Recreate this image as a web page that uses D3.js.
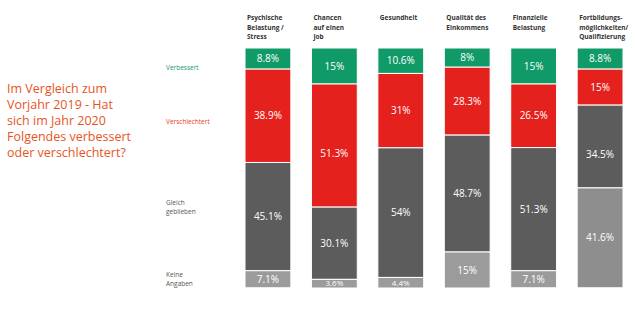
<!DOCTYPE html>
<html>
<head>
<meta charset="utf-8">
<script src="https://cdn.jsdelivr.net/npm/d3@7"></script>
<style>
  body { margin: 0; background: #fff; }
  svg { font-family: "Open Sans", sans-serif; }
</style>
</head>
<body>
<svg id="chart" width="635" height="310"></svg>
<script>
// data
var categories = [
  ["Psychische", "Belastung /", "Stress"],
  ["Chancen", "auf einen", "Job"],
  ["Gesundheit"],
  ["Qualität des", "Einkommens"],
  ["Finanzielle", "Belastung"],
  ["Fortbildungs-", "möglichkeiten/", "Qualifizierung"]
]
var series = ["Verbessert", "Verschlechtert", "Gleich geblieben", "Keine Angaben"]
var verbessert      = [8.8, 15, 10.6, 8, 15, 8.8]
var verschlechtert  = [38.9, 51.3, 31, 28.3, 26.5, 15]
var gleich          = [45.1, 30.1, 54, 48.7, 51.3, 34.5]
var keineAngaben    = [7.1, 3.6, 4.4, 15, 7.1, 41.6]
var legendLines = [["Verbessert"], ["Verschlechtert"], ["Gleich", "geblieben"], ["Keine", "Angaben"]]
var question = ["Im Vergleich zum", "Vorjahr 2019 - Hat", "sich im Jahr 2020", "Folgendes verbessert", "oder verschlechtert?"]

var colors = ["#109a68", "#e5211d", "#5c5c5c", "#9b9b9b"]

var svg = d3.select("#chart")

var x = d3.scaleBand().domain(d3.range(categories.length)).range([245, 623]).paddingInner(0.31).paddingOuter(0)
var y = d3.scaleLinear().domain([0, 100]).range([48, 288])

var rows = categories.map(function(c, i){
  return {i: i, values: [verbessert[i], verschlechtert[i], gleich[i], keineAngaben[i]]}
})

var stack = d3.stack().keys([0, 1, 2, 3]).value(function(d, k){ return d.values[k] })
var layers = stack(rows)

var g = svg.append("g")
layers.forEach(function(layer, k){
  var lg = g.append("g")
  lg.selectAll("rect").data(layer).enter()
    .append("rect")
    .attr("x", function(d){ return x(d.data.i) })
    .attr("width", x.bandwidth())
    .attr("y", function(d){ return y(d[0]) })
    .attr("height", function(d){ return y(d[1]) - y(d[0]) })
    .style("fill", function(d){ return (k == 3 && d.data.i == 5) ? "#8e8e8e" : colors[k] })
    .style("stroke", "#fff")
    .style("stroke-width", 1)
  lg.selectAll("text").data(layer).enter()
    .append("text")
    .attr("x", function(d){ return x(d.data.i) + x.bandwidth()/2 })
    .attr("y", function(d){
      var mid = (y(d[0]) + y(d[1]))/2
      // a few labels sit lower than the middle in the original
      if ((k == 1 && d.data.i == 1) || (k == 2 && d.data.i == 5)) mid += 8
      return mid
    })
    .attr("dy", "0.35em")
    .attr("text-anchor", "middle")
    .style("fill", "#fff")
    .style("font-size", function(d){ return (d[1]-d[0]) < 6 ? "8px" : "10px" })
    .text(function(d){ return (d[1]-d[0]).toFixed(1).replace(/\.0$/, "") + "%" })
})

// column headers
categories.forEach(function(lines, i){
  var t = svg.append("text")
    .attr("x", x(i) + 2)
    .attr("y", 20)
    .style("font-size", "6.5px")
    .style("font-weight", "bold")
    .style("fill", "#333")
  lines.forEach(function(l, j){
    t.append("tspan").attr("x", x(i) + 2).attr("dy", j == 0 ? 0 : 9.5).text(l)
  })
})

// legend labels
var legendY = [70, 124, 205, 277]
var legendColors = ["#109a68", "#e5411d", "#555", "#555"]
legendLines.forEach(function(lines, k){
  var t = svg.append("text")
    .attr("x", 166)
    .attr("y", legendY[k])
    .style("font-size", "6.5px")
    .style("fill", legendColors[k])
  lines.forEach(function(l, j){
    t.append("tspan").attr("x", 166).attr("dy", j == 0 ? 0 : 9).text(l)
  })
})

// question
var q = svg.append("text")
  .attr("x", 7)
  .attr("y", 93)
  .style("font-size", "12.5px")
  .style("fill", "#e8541e")
question.forEach(function(l, j){
  q.append("tspan").attr("x", 7).attr("dy", j == 0 ? 0 : 16).text(l)
})
</script>
</body>
</html>
